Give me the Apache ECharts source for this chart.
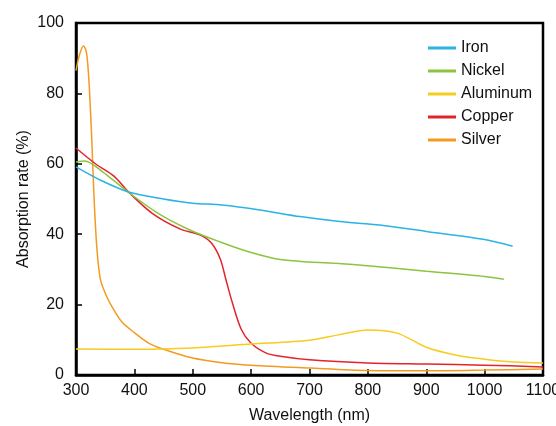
<!DOCTYPE html>
<html>
<head>
<meta charset="utf-8">
<script src="https://cdn.jsdelivr.net/npm/echarts@6/dist/echarts.min.js"></script>
<style>
  html, body { margin: 0; padding: 0; background: #fff; }
  #chart { width: 556px; height: 426px; }
</style>
</head>
<body>
<div id="chart"></div>
<script>
// [wavelength nm, absorption %]
var iron = [[300, 59.1], [340, 55.5], [390, 52], [450, 50], [500, 48.8], [550, 48.3], [615, 46.9], [684, 45], [752, 43.6], [820, 42.6], [900, 40.8], [1000, 38.5], [1048, 36.6]];
var nickel = [[300, 60.5], [315, 60.8], [345, 57.8], [389, 52], [440, 46], [495, 41.2], [547, 37.8], [600, 34.8], [650, 32.8], [700, 32.1], [750, 31.7], [804, 31], [900, 29.5], [1000, 28], [1033, 27.2]];
var aluminum = [[300, 7.4], [400, 7.3], [500, 7.7], [600, 8.8], [700, 9.9], [750, 11.4], [800, 12.8], [850, 11.9], [900, 7.9], [950, 5.7], [1000, 4.5], [1050, 3.7], [1100, 3.4]];
var copper = [[300, 64.5], [335, 59.8], [365, 56.5], [390, 52], [430, 46], [478, 41.5], [512, 39.8], [532, 37.5], [547, 33], [557, 27], [567, 21], [583, 13], [600, 9], [625, 6.3], [650, 5.3], [700, 4.3], [800, 3.4], [900, 3.1], [1000, 2.8], [1100, 2.3]];
var silver = [[300, 86.5], [306, 91], [313, 93.5], [318, 91.5], [322, 84], [327, 67], [331, 50], [336, 35.5], [342, 27], [352, 22.5], [362, 19.3], [378, 15.2], [400, 12], [425, 9], [450, 7.3], [500, 4.8], [550, 3.5], [600, 2.8], [700, 2], [800, 1.3], [900, 1.2], [1000, 1.4], [1100, 1.7]];

var names = ["Iron", "Nickel", "Aluminum", "Copper", "Silver"];
var colors = ["#2ab3e3", "#8cc43f", "#f6cc1f", "#e3242b", "#f39a21"];
var datasets = [iron, nickel, aluminum, copper, silver];

var xTicks = [300, 1100, 100];
var yTicks = [0, 100, 20];

var chart = echarts.init(document.getElementById("chart"));
var font = "Liberation Sans, Arial, sans-serif";

var series = names.map(function (n, i) {
  return {
    name: n,
    type: "line",
    data: datasets[i],
    smooth: 0.3,
    symbol: "none",
    lineStyle: { color: colors[i], width: 1.5 },
    itemStyle: { color: colors[i] },
    z: 5 - i
  };
});

chart.setOption({
  animation: false,
  backgroundColor: "#fff",
  grid: {
    left: 76, right: 13, top: 23, bottom: 51,
    outerBoundsMode: "none",
    containLabel: false,
    show: true, borderColor: "#000", borderWidth: 2.5
  },
  legend: {
    orient: "vertical",
    left: 423, top: 34,
    icon: "rect",
    itemWidth: 28, itemHeight: 3,
    itemGap: 5,
    textStyle: { fontFamily: font, fontSize: 16, color: "#111", lineHeight: 18 },
    data: names
  },
  xAxis: {
    type: "value",
    min: xTicks[0], max: xTicks[1], interval: xTicks[2],
    name: "Wavelength (nm)",
    nameLocation: "middle",
    nameGap: 33,
    nameMoveOverlap: false,
    nameTextStyle: { fontFamily: font, fontSize: 16, color: "#111" },
    axisLine: { lineStyle: { color: "#000", width: 2.5 } },
    axisTick: { inside: true, length: 6, lineStyle: { color: "#000", width: 1.5 } },
    axisLabel: { fontFamily: font, fontSize: 16, color: "#111", margin: 8,
      formatter: function (v) { return String(v); } },
    splitLine: { show: false }
  },
  yAxis: {
    type: "value",
    min: yTicks[0], max: yTicks[1], interval: yTicks[2],
    name: "Absorption rate (%)",
    nameLocation: "middle",
    nameGap: 44,
    nameMoveOverlap: false,
    nameTextStyle: { fontFamily: font, fontSize: 16, color: "#111" },
    axisLine: { show: true, lineStyle: { color: "#000", width: 2.5 } },
    axisTick: { show: true, inside: true, length: 6, lineStyle: { color: "#000", width: 1.5 } },
    axisLabel: { fontFamily: font, fontSize: 16, color: "#111", margin: 12 },
    splitLine: { show: false }
  },
  series: series
});
</script>
</body>
</html>
